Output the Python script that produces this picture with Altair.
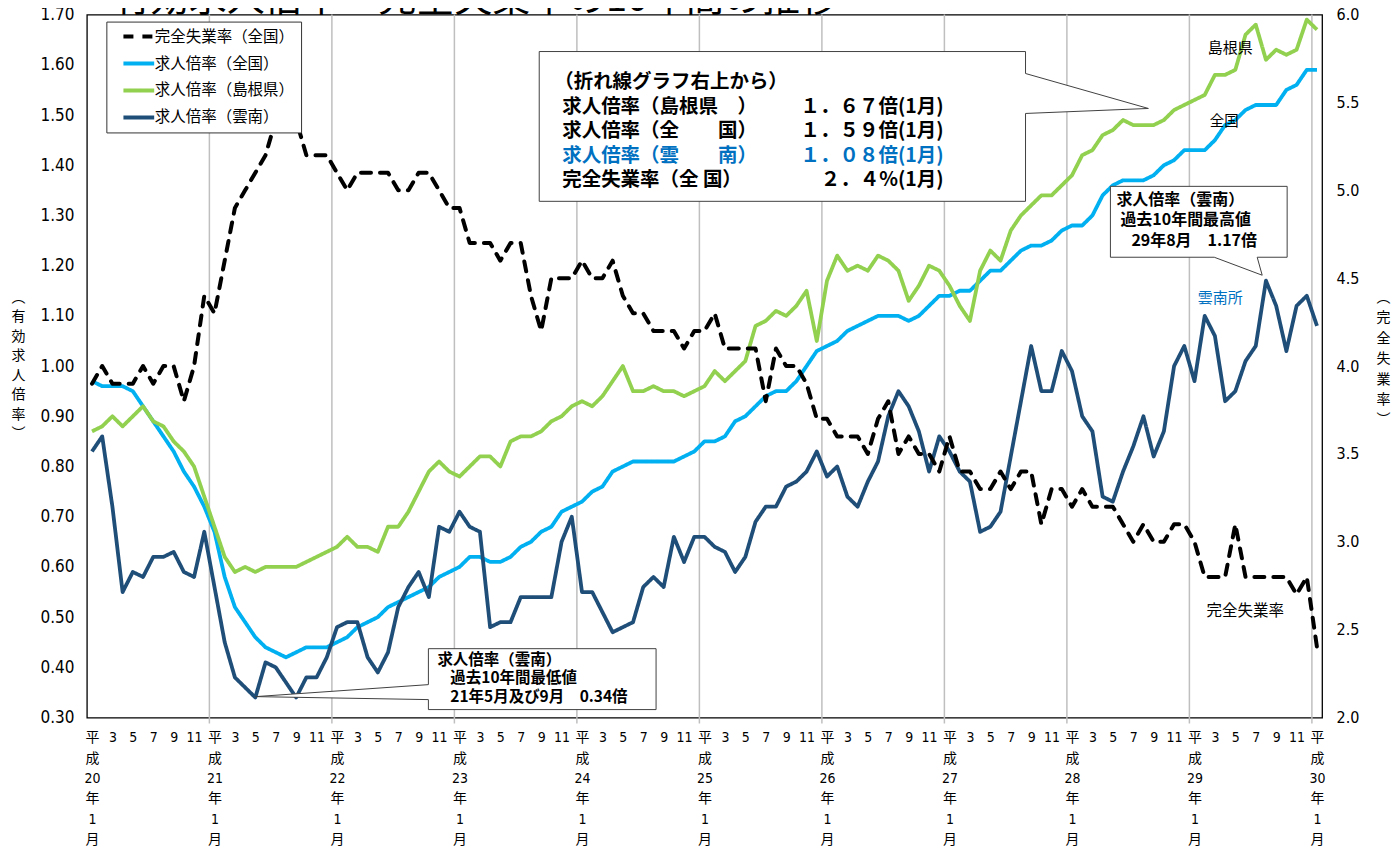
import altair as alt
import pandas as pd

CJK = "Noto Sans CJK JP"
NUM = "Liberation Sans Narrow, Arial Narrow, DejaVu Sans Condensed, Noto Sans CJK JP"

W, H = 1237, 704

title_text = "有効求人倍率・完全失業率の10年間の推移"
series = ["完全失業率（全国）", "求人倍率（全国）", "求人倍率（島根県）", "求人倍率（雲南）"]
colors = ["#000000", "#00B0F0", "#92D050", "#1F4E79"]

# 平成20年1月 .. 平成30年1月 (monthly)
unemp = [
    3.9, 4.0, 3.9, 3.9, 3.9, 4.0, 3.9, 4.0, 4.0, 3.8, 4.0, 4.4,
    4.3, 4.6, 4.9, 5.0, 5.1, 5.2, 5.4, 5.5, 5.4, 5.2, 5.2, 5.2,
    5.1, 5.0, 5.1, 5.1, 5.1, 5.1, 5.0, 5.0, 5.1, 5.1, 5.0, 4.9,
    4.9, 4.7, 4.7, 4.7, 4.6, 4.7, 4.7, 4.4, 4.2, 4.5, 4.5, 4.5,
    4.6, 4.5, 4.5, 4.6, 4.4, 4.3, 4.3, 4.2, 4.2, 4.2, 4.1, 4.2,
    4.2, 4.3, 4.1, 4.1, 4.1, 4.1, 3.8, 4.1, 4.0, 4.0, 3.9, 3.7,
    3.7, 3.6, 3.6, 3.6, 3.5, 3.7, 3.8, 3.5, 3.6, 3.5, 3.5, 3.4,
    3.6, 3.4, 3.4, 3.3, 3.3, 3.4, 3.3, 3.4, 3.4, 3.1, 3.3, 3.3,
    3.2, 3.3, 3.2, 3.2, 3.2, 3.1, 3.0, 3.1, 3.0, 3.0, 3.1, 3.1,
    3.0, 2.8, 2.8, 2.8, 3.1, 2.8, 2.8, 2.8, 2.8, 2.8, 2.7, 2.8,
    2.4,
]
ratio_all = [
    0.97, 0.96, 0.96, 0.96, 0.95, 0.92, 0.89, 0.86, 0.83, 0.79, 0.76, 0.72,
    0.67, 0.58, 0.52, 0.49, 0.46, 0.44, 0.43, 0.42, 0.43, 0.44, 0.44, 0.44,
    0.45, 0.46, 0.48, 0.49, 0.50, 0.52, 0.53, 0.54, 0.55, 0.56, 0.58, 0.59,
    0.60, 0.62, 0.62, 0.61, 0.61, 0.62, 0.64, 0.65, 0.67, 0.68, 0.71, 0.72,
    0.73, 0.75, 0.76, 0.79, 0.80, 0.81, 0.81, 0.81, 0.81, 0.81, 0.82, 0.83,
    0.85, 0.85, 0.86, 0.89, 0.90, 0.92, 0.94, 0.95, 0.95, 0.97, 1.00, 1.03,
    1.04, 1.05, 1.07, 1.08, 1.09, 1.10, 1.10, 1.10, 1.09, 1.10, 1.12, 1.14,
    1.14, 1.15, 1.15, 1.17, 1.19, 1.19, 1.21, 1.23, 1.24, 1.24, 1.25, 1.27,
    1.28, 1.28, 1.30, 1.34, 1.36, 1.37, 1.37, 1.37, 1.38, 1.40, 1.41, 1.43,
    1.43, 1.43, 1.45, 1.48, 1.49, 1.51, 1.52, 1.52, 1.52, 1.55, 1.56, 1.59,
    1.59,
]
ratio_shimane = [
    0.87, 0.88, 0.90, 0.88, 0.90, 0.92, 0.89, 0.88, 0.85, 0.83, 0.80, 0.74,
    0.68, 0.62, 0.59, 0.60, 0.59, 0.60, 0.60, 0.60, 0.60, 0.61, 0.62, 0.63,
    0.64, 0.66, 0.64, 0.64, 0.63, 0.68, 0.68, 0.71, 0.75, 0.79, 0.81, 0.79,
    0.78, 0.80, 0.82, 0.82, 0.80, 0.85, 0.86, 0.86, 0.87, 0.89, 0.90, 0.92,
    0.93, 0.92, 0.94, 0.97, 1.00, 0.95, 0.95, 0.96, 0.95, 0.95, 0.94, 0.95,
    0.96, 0.99, 0.97, 0.99, 1.01, 1.08, 1.09, 1.11, 1.10, 1.12, 1.15, 1.05,
    1.17, 1.22, 1.19, 1.20, 1.19, 1.22, 1.21, 1.19, 1.13, 1.16, 1.20, 1.19,
    1.16, 1.12, 1.09, 1.19, 1.23, 1.21, 1.27, 1.30, 1.32, 1.34, 1.34, 1.36,
    1.38, 1.42, 1.43, 1.46, 1.47, 1.49, 1.48, 1.48, 1.48, 1.49, 1.51, 1.52,
    1.53, 1.54, 1.58, 1.58, 1.59, 1.66, 1.68, 1.61, 1.63, 1.62, 1.63, 1.69,
    1.67,
]
ratio_unnan = [
    0.83, 0.86, 0.72, 0.55, 0.59, 0.58, 0.62, 0.62, 0.63, 0.59, 0.58, 0.67,
    0.56, 0.45, 0.38, 0.36, 0.34, 0.41, 0.40, 0.37, 0.34, 0.38, 0.38, 0.42,
    0.48, 0.49, 0.49, 0.42, 0.39, 0.43, 0.52, 0.56, 0.59, 0.54, 0.68, 0.67,
    0.71, 0.68, 0.67, 0.48, 0.49, 0.49, 0.54, 0.54, 0.54, 0.54, 0.65, 0.70,
    0.55, 0.55, 0.51, 0.47, 0.48, 0.49, 0.56, 0.58, 0.56, 0.66, 0.61, 0.66,
    0.66, 0.64, 0.63, 0.59, 0.62, 0.69, 0.72, 0.72, 0.76, 0.77, 0.79, 0.83,
    0.78, 0.80, 0.74, 0.72, 0.77, 0.81, 0.90, 0.95, 0.92, 0.87, 0.79, 0.86,
    0.83, 0.79, 0.77, 0.67, 0.68, 0.71, 0.82, 0.93, 1.04, 0.95, 0.95, 1.03,
    0.99, 0.90, 0.87, 0.74, 0.73, 0.79, 0.84, 0.90, 0.82, 0.87, 1.00, 1.04,
    0.97, 1.10, 1.06, 0.93, 0.95, 1.01, 1.04, 1.17, 1.12, 1.03, 1.12, 1.14,
    1.08,
]

left_ticks = [round(0.3 + 0.1 * i, 2) for i in range(15)]
right_ticks = [round(2.0 + 0.5 * i, 1) for i in range(9)]

box_lines = ["（折れ線グラフ右上から）", "求人倍率（島根県　）", "求人倍率（全　　国）", "求人倍率（雲　　南）", "完全失業率（全 国）"]
box_values = ["", "１．６７倍(1月)", "１．５９倍(1月)", "１．０８倍(1月)", "２．４%(1月)"]
min_note = ["求人倍率（雲南）", "過去10年間最低値", "21年5月及び9月　0.34倍"]
max_note = ["求人倍率（雲南）", "過去10年間最高値", "29年8月　1.17倍"]

n = len(unemp)
months = list(range(n))
year_bounds = [m - 0.5 for m in months if m % 12 == 0 and m > 0]

ratio_df = pd.DataFrame({
    "m": months * 3,
    "v": ratio_all + ratio_shimane + ratio_unnan,
    "s": [series[1]] * n + [series[2]] * n + [series[3]] * n,
})
unemp_df = pd.DataFrame({"m": months, "u": unemp, "s": [series[0]] * n})
grid_df = pd.DataFrame({"m": year_bounds})
one = pd.DataFrame({"k": [0]})

x_axis = alt.Axis(
    values=list(range(0, n, 2)),
    labelExpr="datum.value % 12 == 0 ? ['平', '成', '' + (20 + datum.value / 12), '年', '1', '月'] : '' + (datum.value % 12 + 1)",
    ticks=False, grid=False, domain=False, labelFont=NUM, labelFontSize=14, labelColor="#000",
    labelLineHeight=20.5, labelBaseline="top", labelPadding=13, labelFlush=False,
    labelOverlap=False, labelAngle=0, title=None,
)
xenc = alt.X("m:Q", scale=alt.Scale(domain=[-0.5, n - 0.5], nice=False, zero=False), axis=x_axis)

leg = alt.Legend(
    title=None, orient="none", legendX=19.5, legendY=7, direction="vertical",
    symbolType="M-2.2,0L2.2,0", symbolSize=196, symbolStrokeWidth=4, symbolOffset=17.5,
    labelOffset=7, labelFont=CJK, labelFontSize=15.5, labelColor="#000", rowPadding=9,
    padding=6, strokeColor="#333333", fillColor="#ffffff", labelLimit=0,
    labelExpr="datum.label + '\u2002'",
)
color = alt.Color("s:N", scale=alt.Scale(domain=series, range=colors), legend=leg)
dash = alt.StrokeDash("s:N", scale=alt.Scale(domain=series, range=[[10, 9], [1, 0], [1, 0], [1, 0]]), legend=leg)

grid = alt.Chart(grid_df).mark_rule(color="#BFBFBF", strokeWidth=1.5).encode(
    x=xenc, y=alt.value(0), y2=alt.value(H + 6)
)

ratio_lines = alt.Chart(ratio_df).mark_line(strokeWidth=3.8, strokeJoin="round").encode(
    x=xenc,
    y=alt.Y("v:Q", scale=alt.Scale(domain=[0.3, 1.7], nice=False, zero=False),
            axis=alt.Axis(orient="left", values=left_ticks, format=".2f", grid=False, domain=False,
                          ticks=False, labelFont=NUM, labelFontSize=17, labelColor="#000", labelPadding=13,
                          title=list("︵有効求人倍率︶"), titleAngle=0, titleAlign="center",
                          titleBaseline="middle", titleX=-69, titleY=283, titleFont=CJK,
                          titleFontSize=14, titleFontWeight="normal", titleLineHeight=19.5,
                          titleColor="#000")),
    color=color, strokeDash=dash,
)

unemp_line = alt.Chart(unemp_df).mark_line(strokeWidth=4, strokeCap="round", strokeJoin="round").encode(
    x=xenc,
    y=alt.Y("u:Q", scale=alt.Scale(domain=[2.0, 6.0], nice=False, zero=False),
            axis=alt.Axis(orient="right", values=right_ticks, format=".1f", grid=False, domain=False,
                          ticks=False, labelFont=NUM, labelFontSize=16, labelColor="#000", labelPadding=14,
                          title=list("︵完全失業率︶"), titleAngle=0, titleAlign="center",
                          titleBaseline="middle", titleX=61, titleY=283, titleFont=CJK,
                          titleFontSize=14, titleFontWeight="normal", titleLineHeight=20.5,
                          titleColor="#000")),
    color=color, strokeDash=dash,
)


def callout(path):
    return alt.Chart(one).mark_point(
        shape=path, size=4, filled=True, fill="#ffffff", stroke="#404040", strokeWidth=1, opacity=1
    ).encode(x=alt.value(0), y=alt.value(0))


def label(txt, x, y, size, bold=False, col="#000000", align="left", baseline="middle"):
    return alt.Chart(one).mark_text(
        text=txt, font=CJK, fontSize=size, fontWeight="bold" if bold else "normal",
        color=col, align=align, baseline=baseline,
    ).encode(x=alt.value(x), y=alt.value(y))


layers = [grid, ratio_lines, unemp_line]
layers.append(callout("M453,37L940,37L940,59L1063,94L940,99L940,187L453,187Z"))
layers.append(callout("M342,635L570,635L570,696L342,696L342,686L169,683L342,671Z"))
layers.append(callout("M1025,172L1202,172L1202,243L1172,243L1177,261L1129,243L1025,243Z"))

box_y = [68, 92.5, 117, 141.5, 166]
for i, (t, v) in enumerate(zip(box_lines, box_values)):
    col = "#0070C0" if i == 3 else "#000000"
    layers.append(label(t, 468 if i == 0 else 476, box_y[i], 19.5, True, col))
    if v:
        layers.append(label(v, 858, box_y[i], 19.5, True, col, align="right"))

for i, (t, yy) in enumerate(zip(min_note, [646, 664, 683])):
    layers.append(label(t, 351 if i == 0 else 364, yy, 15.5, True))
for i, (t, yy) in enumerate(zip(max_note, [186, 206, 226.5])):
    layers.append(label(t, 1031 if i == 0 else (1035 if i == 1 else 1046), yy, 16, True))

layers.append(label("島根県", 1145, 33, 15, align="center"))
layers.append(label("全国", 1139, 108, 14.5, align="center"))
layers.append(label("雲南所", 1135, 284, 15, col="#0070C0", align="center"))
layers.append(label("完全失業率", 1160, 597, 15.5, align="center"))
layers.append(label(title_text, 26, -4, 38, baseline="alphabetic"))

chart = alt.layer(*layers).resolve_scale(y="independent").properties(
    width=W, height=H,
    autosize=alt.AutoSizeParams(type="none"),
    padding={"left": 79, "top": 6, "right": 70, "bottom": 129},
    background="#ffffff",
).configure_view(stroke="#000000", strokeWidth=1.3)

chart.save("out.html", embed_options={"renderer": "svg", "actions": False})
